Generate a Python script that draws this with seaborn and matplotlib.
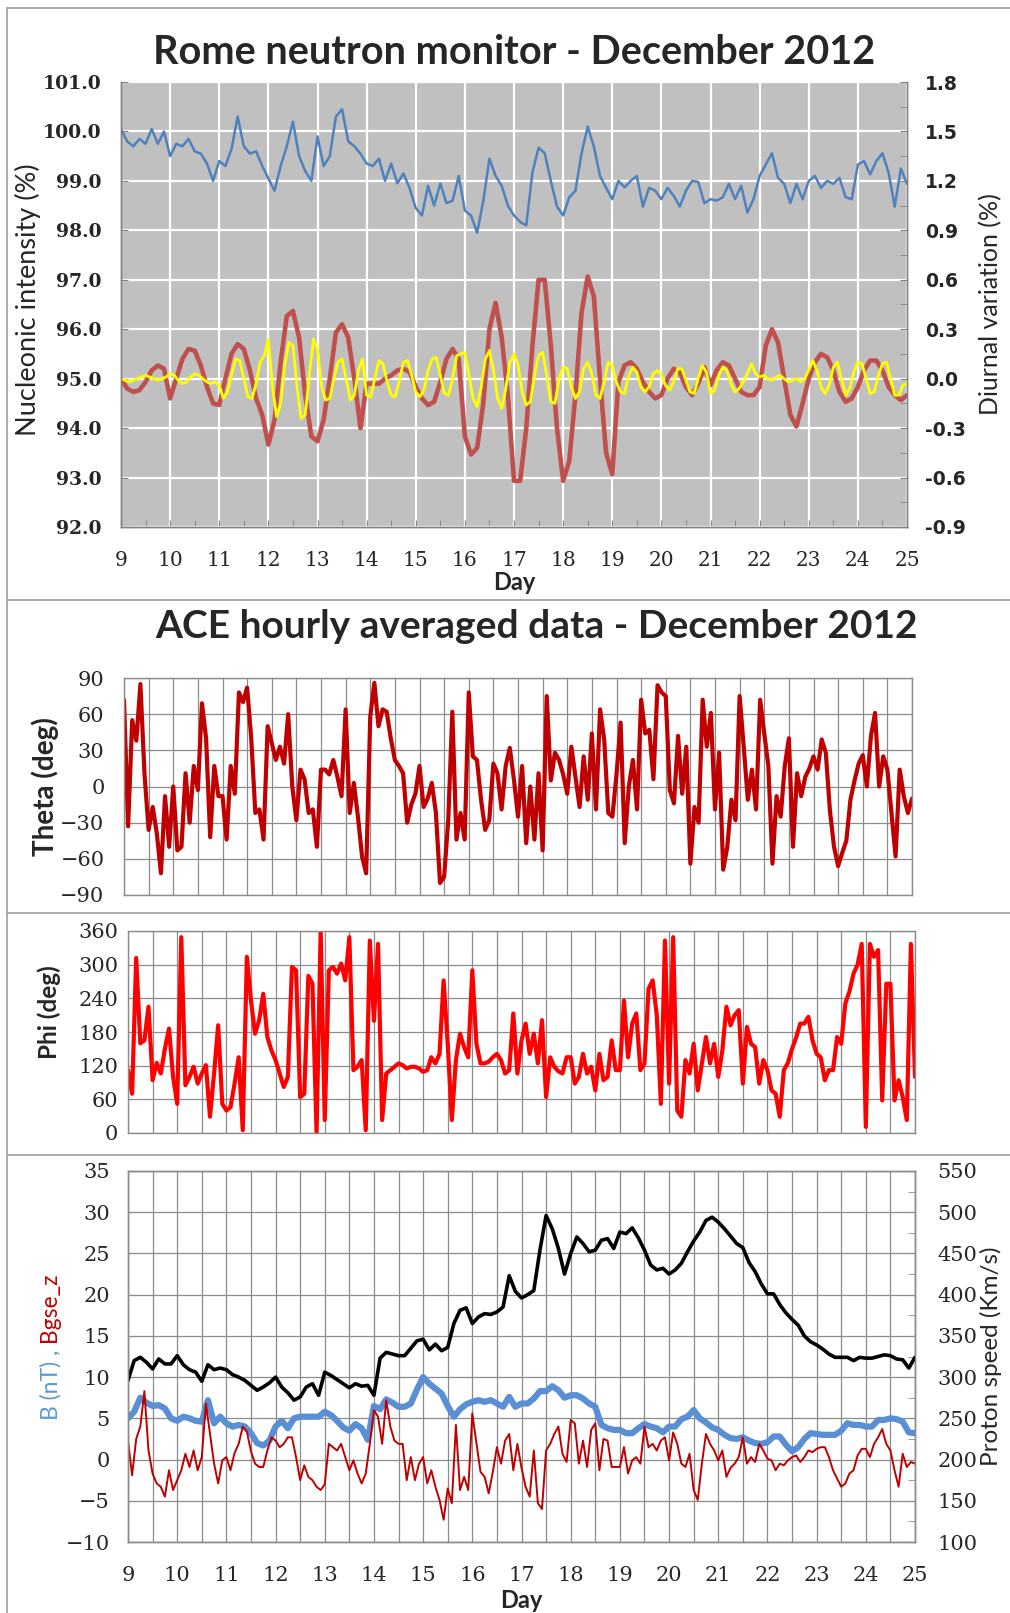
import numpy as np
import seaborn as sns
import matplotlib.pyplot as plt
from matplotlib.lines import Line2D
from matplotlib.ticker import FormatStrFormatter

################################
#####  Data #####
################################

# Rome neutron monitor, 3-hourly, Dec 9 -> Dec 25
nm_intensity = [
    100.05, 99.8, 99.7, 99.85, 99.75, 100.05, 99.75, 100.0,
    99.5, 99.75, 99.7, 99.85, 99.6, 99.55, 99.35, 99.0,
    99.4, 99.3, 99.65, 100.3, 99.7, 99.55, 99.6, 99.3,
    99.05, 98.8, 99.3, 99.7, 100.2, 99.5, 99.2, 99.0,
    99.9, 99.3, 99.5, 100.3, 100.45, 99.8, 99.7, 99.55,
    99.35, 99.3, 99.45, 99.0, 99.35, 98.95, 99.15, 98.85,
    98.45, 98.3, 98.9, 98.5, 98.95, 98.55, 98.6, 99.1,
    98.4, 98.3, 97.95, 98.6, 99.45, 99.1, 98.9, 98.5,
    98.3, 98.17, 98.1, 99.17, 99.67, 99.56, 99.0, 98.48,
    98.3, 98.67, 98.8, 99.56, 100.1, 99.7, 99.1, 98.86,
    98.63, 99.0, 98.87, 99.0, 99.1, 98.48, 98.86, 98.8,
    98.63, 98.86, 98.7, 98.48, 98.8, 99.0, 98.98, 98.55,
    98.63, 98.6, 98.67, 98.94, 98.63, 98.9, 98.36, 98.63,
    99.1, 99.33, 99.56, 99.06, 98.94, 98.55, 98.94, 98.63,
    99.0, 99.1, 98.86, 99.0, 98.94, 99.06, 98.67, 98.63,
    99.33, 99.4, 99.13, 99.4, 99.56, 99.17, 98.48, 99.25,
    98.94]

# diurnal component (red), 3-hourly, %
diurnal_red = [
    0.0, -0.06, -0.08, -0.07, -0.02, 0.05, 0.08, 0.06,
    -0.12, 0.0, 0.12, 0.18, 0.17, 0.08, -0.05, -0.15,
    -0.16, 0.0, 0.15, 0.21, 0.18, 0.05, -0.12, -0.22,
    -0.40, -0.25, 0.1, 0.38, 0.41, 0.25, -0.1, -0.35,
    -0.38, -0.25, 0.0, 0.28, 0.33, 0.25, 0.0, -0.3,
    -0.03, -0.03, -0.03, 0.0, 0.02, 0.05, 0.06, 0.04,
    -0.05, -0.12, -0.16, -0.14, -0.02, 0.12, 0.18, 0.12,
    -0.35, -0.46, -0.42, -0.15, 0.3, 0.46, 0.25, -0.1,
    -0.62, -0.62, -0.3, 0.2, 0.6, 0.6, 0.2, -0.3,
    -0.62, -0.5, -0.1, 0.4, 0.62, 0.5, 0.0, -0.45,
    -0.58, -0.02, 0.08, 0.1, 0.06, -0.02, -0.08, -0.12,
    -0.1, 0.0, 0.06, 0.04, -0.05, -0.1, -0.03, 0.07,
    -0.04, 0.05, 0.1, 0.08, 0.0, -0.08, -0.1, -0.1,
    -0.05, 0.2, 0.3, 0.22, 0.0, -0.22, -0.29, -0.15,
    0.0, 0.1, 0.15, 0.13, 0.05, -0.08, -0.14, -0.12,
    -0.05, 0.05, 0.11, 0.11, 0.05, -0.05, -0.1, -0.13,
    -0.1]

# semidiurnal component (yellow), 2-hourly, %
diurnal_yellow = [
    0.0, -0.01, -0.02, -0.01, 0.0, 0.01, 0.02, 0.01, 0.0, -0.01, 0.0, 0.01,
    0.03, 0.02, -0.01, -0.03, -0.02, 0.01, 0.03, 0.02, 0.0, -0.02, -0.03, -0.02,
    -0.04, -0.12, -0.08, 0.02, 0.12, 0.11, 0.0, -0.11, -0.12, -0.03, 0.1, 0.14,
    0.24, -0.05, -0.23, -0.15, 0.08, 0.22, 0.2, -0.05, -0.24, -0.22, 0.02, 0.24,
    0.18, -0.05, -0.13, -0.12, 0.0, 0.1, 0.12, 0.0, -0.13, -0.1, 0.05, 0.12,
    -0.1, -0.11, 0.0, 0.11, 0.09, -0.02, -0.1, -0.11, -0.01, 0.1, 0.11, 0.02,
    -0.08, -0.11, -0.07, 0.05, 0.12, 0.13, 0.02, -0.09, -0.1, 0.0, 0.14, 0.15,
    0.16, 0.02, -0.12, -0.17, -0.05, 0.12, 0.17, 0.05, -0.12, -0.18, -0.06, 0.1,
    0.15, 0.08, -0.08, -0.16, -0.14, 0.02, 0.14, 0.16, 0.02, -0.14, -0.15, 0.0,
    0.07, 0.06, -0.05, -0.12, -0.08, 0.06, 0.1, 0.03, -0.1, -0.12, -0.02, 0.1,
    0.08, -0.02, -0.08, -0.09, 0.02, 0.07, 0.04, -0.05, -0.08, -0.05, 0.03, 0.05,
    0.02, -0.04, -0.07, -0.02, 0.06, 0.06, -0.01, -0.08, -0.09, 0.0, 0.08, 0.04,
    -0.09, -0.07, 0.02, 0.07, 0.05, -0.03, -0.08, -0.06, -0.02, 0.03, 0.09, 0.03,
    0.01, 0.02, 0.0, -0.01, 0.01, 0.02, 0.0, -0.02, -0.01, 0.0, -0.02, 0.0,
    0.05, 0.11, 0.05, -0.05, -0.09, -0.04, 0.07, 0.1, 0.0, -0.1, -0.06, 0.04,
    0.1, 0.09, 0.0, -0.09, -0.08, 0.02, 0.09, 0.1, 0.0, -0.1, -0.1, -0.04,
    -0.03]

# ACE theta (deg), 2-hourly
ace_theta = [
    72, -33, 55, 38, 85, 10, -36, -17, -39, -72, -8, -50,
    0, -53, -50, 11, -30, 17, -3, 69, 40, -42, 17, -8,
    -8, -44, 17, -6, 78, 70, 82, 40, -22, -19, -44, 50,
    36, 22, 33, 19, 60, 0, -28, 14, 6, -22, -19, -50,
    14, 14, 10, 22, 8, -8, 64, -22, 3, -25, -58, -72,
    58, 86, 50, 64, 62, 40, 22, 17, 11, -30, -15, -6,
    17, -17, -10, 3, -22, -80, -75, -28, 62, -44, -22, -44,
    78, 25, 22, -11, -36, -28, 19, 11, -19, 17, 32, 6,
    -25, 17, -47, 0, -44, 11, -53, 75, 5, 28, 22, 10,
    -6, 33, 8, -17, 25, -11, 44, -19, 64, 39, -22, -25,
    10, 53, -47, 0, 22, -19, 72, 44, 47, 6, 84, 78,
    75, -3, -14, 42, -6, 33, -64, -17, -30, 72, 33, 61,
    -19, 28, -69, -50, -11, -28, 75, 33, -11, 14, -19, 72,
    44, 17, -64, -8, -25, 17, 40, -50, 11, -8, 8, 15,
    25, 14, 39, 28, -20, -50, -66, -55, -45, -11, 5, 19,
    26, 0, 42, 61, 0, 25, 14, -22, -58, 14, -8, -22,
    -10]

# ACE phi (deg), 2-hourly
ace_phi = [
    112, 70, 312, 160, 165, 225, 94, 125, 106, 150, 186, 100,
    52, 349, 85, 100, 118, 88, 106, 121, 29, 106, 192, 52,
    40, 46, 88, 135, 5, 314, 236, 177, 201, 248, 171, 147,
    130, 106, 82, 100, 296, 290, 64, 70, 280, 266, 0, 360,
    23, 290, 296, 284, 302, 272, 349, 112, 118, 130, 5, 343,
    200, 337, 23, 106, 112, 118, 124, 121, 115, 118, 118, 115,
    109, 112, 135, 124, 141, 272, 159, 23, 130, 177, 153, 135,
    290, 159, 124, 124, 127, 135, 141, 130, 106, 112, 213, 106,
    165, 195, 141, 177, 124, 201, 64, 135, 118, 110, 106, 135,
    135, 88, 100, 141, 106, 118, 76, 141, 94, 100, 165, 112,
    112, 236, 135, 195, 213, 112, 124, 257, 272, 210, 52, 343,
    88, 349, 40, 29, 130, 106, 159, 76, 124, 171, 124, 159,
    100, 147, 225, 192, 210, 219, 88, 189, 159, 153, 88, 130,
    112, 76, 70, 29, 112, 125, 150, 170, 195, 195, 207, 165,
    141, 135, 94, 112, 112, 171, 159, 231, 252, 284, 300, 337,
    11, 337, 314, 326, 58, 266, 266, 58, 94, 64, 23, 337,
    100]

# IMF magnitude B (nT), 3-hourly
imf_b = [
    5.0, 5.8, 7.5, 6.9, 6.5, 6.6, 6.2, 5.0,
    4.7, 5.2, 5.0, 4.7, 4.6, 7.2, 4.4, 5.2,
    4.4, 4.0, 4.2, 4.0, 3.2, 2.0, 1.7, 2.3,
    4.0, 4.7, 3.8, 5.0, 5.2, 5.2, 5.2, 5.2,
    5.8, 5.4, 4.7, 3.9, 3.5, 4.3, 3.8, 2.4,
    6.5, 6.1, 7.3, 6.9, 6.4, 6.4, 6.8, 8.5,
    10.0, 9.2, 8.6, 8.0, 6.5, 5.2, 6.1, 6.7,
    7.0, 7.2, 7.0, 7.2, 6.8, 6.4, 7.6, 6.4,
    6.8, 6.8, 7.4, 8.3, 8.3, 8.9, 8.4, 7.5,
    7.8, 7.8, 7.4, 6.8, 6.4, 4.2, 3.8, 3.6,
    3.6, 3.2, 3.2, 3.8, 4.3, 4.0, 3.8, 3.3,
    4.0, 4.0, 4.9, 5.2, 6.0, 5.0, 4.5, 3.9,
    3.6, 3.0, 2.6, 2.5, 2.7, 2.3, 2.0, 1.9,
    2.1, 2.8, 2.8, 1.8, 1.0, 1.5, 2.5, 3.2,
    3.1, 3.0, 3.0, 3.0, 3.5, 4.4, 4.2, 4.2,
    4.0, 4.0, 4.8, 4.8, 5.0, 4.9, 4.6, 3.3,
    3.2]

# IMF Bz GSE (nT), 2-hourly
imf_bz = [
    2.3, -1.9, 2.5, 4.0, 8.3, 1.1, -1.7, -2.9, -3.3, -4.5, -1.3, -3.7,
    -2.5, -1.3, 0.7, -0.9, 1.1, -1.3, 0.3, 6.8, 3.1, -0.5, -2.9, -0.1,
    0.3, -1.3, 0.8, 1.9, 4.0, 3.4, 1.0, -0.5, -0.9, -0.9, 1.1, 2.7,
    2.3, 1.5, 1.9, 2.7, 2.7, 0.3, -2.5, -0.7, -2.1, -2.5, -3.3, -3.7,
    -3.0, 1.9, 1.5, 1.1, 1.9, 0.3, -1.3, -0.1, -1.7, -2.9, -1.7, 1.9,
    6.0, 5.2, 1.9, 7.2, 4.0, 2.3, 1.9, 1.9, -2.5, 0.3, -2.5, -0.5,
    0.3, -2.9, -1.3, -3.3, -4.9, -7.3, -3.5, -5.3, 4.2, -3.7, -2.1, -3.7,
    5.6, 2.0, -1.5, -2.1, -4.1, -1.5, 1.5, -0.5, 2.3, 3.1, -1.3, 1.9,
    -1.0, -3.3, -4.5, 1.1, -5.3, -6.0, 1.1, 1.9, 3.1, 4.0, 0.7, -0.3,
    4.8, 4.4, -0.5, 2.3, -0.9, 3.6, 4.4, -1.3, 2.5, 2.3, -0.9, -0.9,
    -0.9, 1.5, -1.7, -0.1, 0.3, -0.5, 4.0, 1.5, 1.9, 1.1, 2.3, 2.7,
    -0.1, 3.3, 1.9, -0.5, -0.9, 0.7, -3.7, -4.9, -0.5, 3.1, 1.9, 1.1,
    -0.1, 1.1, -2.1, -1.0, -0.5, 0.3, 2.7, -0.5, 0.3, -0.3, 1.9, 1.1,
    0.1, -0.1, -1.3, -0.5, -0.7, -0.1, 0.3, 0.5, -0.3, 0.3, 1.1, 0.9,
    1.3, 1.5, 1.5, 0.3, -1.3, -2.3, -3.3, -2.9, -1.7, -1.3, 0.5, 1.3,
    1.3, 0.3, 1.9, 2.7, 3.7, 1.9, 1.1, -1.3, -3.3, 0.7, -0.9, -0.3,
    -0.5]

# proton speed (km/s), 3-hourly
proton_speed = [
    296, 320, 324, 318, 310, 322, 316, 316,
    326, 315, 309, 306, 295, 315, 309, 311,
    309, 303, 300, 296, 290, 284, 288, 293,
    300, 288, 281, 272, 276, 288, 292, 278,
    306, 302, 297, 292, 287, 292, 289, 290,
    278, 323, 330, 328, 326, 326, 335, 344,
    346, 333, 340, 332, 336, 365, 381, 384,
    365, 373, 377, 376, 379, 385, 423, 404,
    396, 400, 405, 454, 496, 480, 456, 425,
    450, 470, 462, 452, 454, 466, 468, 456,
    476, 474, 481, 469, 454, 436, 430, 432,
    425, 430, 438, 452, 465, 476, 490, 494,
    488, 480, 471, 462, 457, 439, 428, 413,
    401, 401, 388, 378, 370, 363, 350, 343,
    339, 334, 328, 324, 324, 324, 320, 324,
    323, 323, 325, 327, 326, 322, 321, 311,
    324]

day_ticks = list(range(9, 26))

#####################################
##### Style / fonts #################
#####################################
sns.set_style('white')
plt.rcParams['font.family'] = ['Lato', 'DejaVu Sans']
plt.rcParams['axes.linewidth'] = 1.0

SERIF = 'DejaVu Serif'
GRID_GRAY = '#8c8c8c'
FRAME_GRAY = '#a6a6a6'

fig = plt.figure(figsize=(10.10, 16.13), dpi=100)
W, H = 1010.0, 1613.0


def fig_axes(left, top, right, bottom):
    # pixel box -> figure fraction
    return fig.add_axes([left / W, 1 - bottom / H, (right - left) / W, (bottom - top) / H])


def days_for(series):
    return np.linspace(9, 25, len(series))


##################################
##### Panel 1: neutron monitor ###
##################################
ax1 = fig_axes(121, 82, 907, 527)
ax1.set_facecolor('#c0c0c0')
sns.lineplot(x=days_for(nm_intensity), y=nm_intensity, ax=ax1, color='#4f81bd', linewidth=1.8)
ax1.set_xlim(9, 25)
ax1.set_ylim(92, 101)
ax1.set_xticks(day_ticks)
ax1.set_xticks(np.arange(9.5, 25, 1), minor=True)
ax1.set_yticks(np.arange(92, 101.5, 1))
ax1.yaxis.set_major_formatter(FormatStrFormatter('%.1f'))
ax1.grid(True, which='major', color='white', linewidth=1.6)
ax1.set_axisbelow(True)
ax1.tick_params(axis='x', which='both', direction='in', length=5, color='#808080',
                labelsize=14.5, pad=17, bottom=True)
ax1.tick_params(axis='y', which='both', direction='in', length=5, color='#808080',
                labelsize=13.5, pad=14, left=True)
plt.setp(ax1.get_xticklabels(), family=SERIF)
plt.setp(ax1.get_yticklabels(), family=SERIF, weight='bold')
for s in ['left', 'bottom', 'right']:
    ax1.spines[s].set_color('#808080')
ax1.spines['top'].set_visible(False)
ax1.set_xlabel('Day', fontsize=17, fontweight='bold', labelpad=1)
ax1.set_ylabel('Nucleonic intensity (%)', fontsize=19.5)
ax1.yaxis.set_label_coords(-0.102, 0.51)

ax1r = ax1.twinx()
sns.lineplot(x=days_for(diurnal_red), y=diurnal_red, ax=ax1r, color='#c0504d', linewidth=3.3)
sns.lineplot(x=days_for(diurnal_yellow), y=diurnal_yellow, ax=ax1r, color='#ffff00', linewidth=2.0)
ax1r.set_ylim(-0.9, 1.8)
ax1r.set_yticks([-0.9, -0.6, -0.3, 0.0, 0.3, 0.6, 0.9, 1.2, 1.5, 1.8])
ax1r.set_yticks([-0.75, -0.45, -0.15, 0.15, 0.45, 0.75, 1.05, 1.35, 1.65], minor=True)
ax1r.yaxis.set_major_formatter(FormatStrFormatter('%.1f'))
ax1r.tick_params(axis='y', which='both', direction='in', length=5, color='#808080',
                 labelsize=13.5, pad=13, right=True)
plt.setp(ax1r.get_yticklabels(), family='DejaVu Sans', weight='bold')
for s in ['left', 'bottom', 'right']:
    ax1r.spines[s].set_color('#808080')
ax1r.spines['top'].set_visible(False)
ax1r.set_ylabel('Diurnal variation (%)', fontsize=18)
ax1r.yaxis.set_label_coords(1.0916, 0.5)
ax1r.set_xlim(9, 25)


def ace_axes(ax):
    ax.set_xlim(9, 25)
    ax.set_xticks(day_ticks)
    ax.set_xticks(np.arange(9.5, 25, 1), minor=True)
    ax.grid(True, which='both', axis='x', color=GRID_GRAY, linewidth=0.9)
    ax.grid(True, which='major', axis='y', color=GRID_GRAY, linewidth=0.9)
    ax.set_axisbelow(True)
    for s in ax.spines.values():
        s.set_color(GRID_GRAY)
    ax.tick_params(axis='both', which='both', direction='in', length=5, color=GRID_GRAY)


##################################
##### Panel 2: theta #############
##################################
ax2 = fig_axes(124, 678, 912, 895)
sns.lineplot(x=days_for(ace_theta), y=ace_theta, ax=ax2, color='#c00000', linewidth=3.0)
ace_axes(ax2)
ax2.set_ylim(-90, 90)
ax2.set_yticks(np.arange(-90, 91, 30))
ax2.set_yticks(np.arange(-75, 90, 30), minor=True)
ax2.tick_params(axis='x', labelbottom=False)
ax2.tick_params(axis='y', labelsize=15, pad=14)
plt.setp(ax2.get_yticklabels(), family=SERIF)
ax2.set_ylabel('Theta (deg)', fontsize=20, fontweight='bold')
ax2.yaxis.set_label_coords(-0.082, 0.5)

##################################
##### Panel 3: phi ###############
##################################
ax3 = fig_axes(128, 931, 915, 1133)
sns.lineplot(x=days_for(ace_phi), y=ace_phi, ax=ax3, color='#ff0000', linewidth=3.0)
ace_axes(ax3)
ax3.set_ylim(0, 360)
ax3.set_yticks(np.arange(0, 361, 60))
ax3.tick_params(axis='x', labelbottom=False)
ax3.tick_params(axis='y', labelsize=15, pad=7)
plt.setp(ax3.get_yticklabels(), family=SERIF)
ax3.set_ylabel('Phi (deg)', fontsize=17.5, fontweight='bold')
ax3.yaxis.set_label_coords(-0.085, 0.6)

##################################
##### Panel 4: B, Bz, speed ######
##################################
ax4 = fig_axes(128, 1171, 915, 1542)
sns.lineplot(x=days_for(imf_b), y=imf_b, ax=ax4, color='#5a8fd6', linewidth=4.5)
sns.lineplot(x=days_for(imf_bz), y=imf_bz, ax=ax4, color='#c00000', linewidth=1.4)
ace_axes(ax4)
ax4.set_ylim(-10, 35)
ax4.set_yticks(np.arange(-10, 36, 5))
ax4.tick_params(axis='x', labelsize=15, pad=17)
ax4.tick_params(axis='y', labelsize=15, pad=13)
plt.setp(ax4.get_xticklabels(), family=SERIF)
plt.setp(ax4.get_yticklabels(), family=SERIF)
ax4.set_xlabel('Day', fontsize=17, fontweight='bold', labelpad=3)

ax4r = ax4.twinx()
sns.lineplot(x=days_for(proton_speed), y=proton_speed, ax=ax4r, color='black', linewidth=2.6)
ax4r.set_xlim(9, 25)
ax4r.set_ylim(100, 550)
ax4r.set_yticks(np.arange(100, 551, 50))
ax4r.set_yticks(np.arange(125, 550, 50), minor=True)
ax4r.tick_params(axis='y', which='both', direction='in', length=5, color=GRID_GRAY,
                 labelsize=15, pad=16, right=True)
plt.setp(ax4r.get_yticklabels(), family=SERIF)
for s in ax4r.spines.values():
    s.set_color(GRID_GRAY)
ax4r.set_ylabel('Proton speed (Km/s)', fontsize=17.5)
ax4r.yaxis.set_label_coords(1.083, 0.5)

# two-coloured left label for panel 4
t1 = fig.text(51 / W, 1 - 1420 / H, 'B (nT) ,', rotation=90, color='#5b9bd5',
              fontsize=16.5, ha='center', va='bottom')
fig.canvas.draw()
bb = t1.get_window_extent()
y_top = fig.transFigure.inverted().transform((0, bb.y1))[1]
fig.text(51 / W, y_top, ' Bgse_z', rotation=90, color='#c00000',
         fontsize=16.5, ha='center', va='bottom')

##################################
##### Titles and frame ###########
##################################
fig.text(514 / W, 1 - 53 / H, 'Rome neutron monitor - December 2012',
         fontsize=28.5, fontweight='bold', ha='center', va='center')
fig.text(536 / W, 1 - 627 / H, 'ACE hourly averaged data - December 2012',
         fontsize=28, fontweight='bold', ha='center', va='center')

for yy in [8, 600, 913, 1155]:
    fig.add_artist(Line2D([7 / W, 1.0], [1 - yy / H, 1 - yy / H], color=FRAME_GRAY, linewidth=1.3))
fig.add_artist(Line2D([7 / W, 7 / W], [1 - 8 / H, 0.0], color=FRAME_GRAY, linewidth=1.3))

fig.savefig('out.png', dpi=100)
